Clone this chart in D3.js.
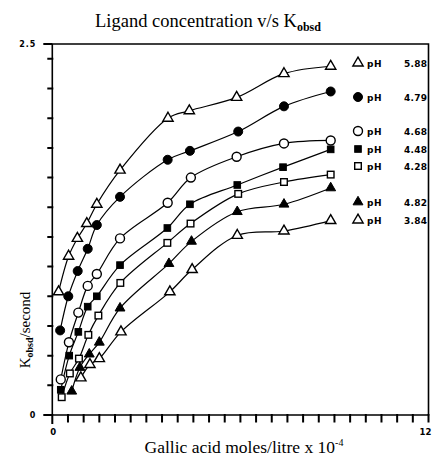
<!DOCTYPE html>
<html>
<head>
<meta charset="utf-8">
<script src="https://cdn.jsdelivr.net/npm/d3@7"></script>
<style>
  body { margin: 0; background: #fff; }
  svg { display: block; }
</style>
</head>
<body>
<div id="chart"></div>
<script>
// Ligand concentration v/s Kobsd
var series_ph = ["5.88", "4.79", "4.68", "4.48", "4.28", "4.82", "3.84"];
var series_marks = ["triangleOpen", "circleFilled", "circleOpen", "squareFilled", "squareOpen", "triangleFilled", "triangleOpen"];

// gallic acid (moles/litre x 10^-4) for each series
var conc_588 = [0.2, 0.52, 0.8, 1.1, 1.42, 2.16, 3.69, 4.37, 5.88, 7.39, 8.88];
var conc_479 = [0.25, 0.51, 0.81, 1.13, 1.42, 2.16, 3.68, 4.39, 5.93, 7.39, 8.88];
var conc_468 = [0.27, 0.53, 0.83, 1.13, 1.42, 2.16, 3.68, 4.42, 5.88, 7.39, 8.88];
var conc_448 = [0.27, 0.54, 0.83, 1.13, 1.42, 2.16, 3.67, 4.39, 5.9, 7.36, 8.88];
var conc_428 = [0.3, 0.56, 0.85, 1.15, 1.47, 2.17, 3.67, 4.41, 5.93, 7.39, 8.88];
var conc_482 = [0.62, 0.88, 1.18, 1.5, 2.16, 3.72, 4.44, 5.9, 7.39, 8.88];
var conc_384 = [0.91, 1.2, 1.5, 2.19, 3.75, 4.46, 5.9, 7.39, 8.88];

// Kobsd / second
var k_588 = [0.83, 1.07, 1.19, 1.29, 1.42, 1.65, 2.0, 2.05, 2.14, 2.3, 2.35];
var k_479 = [0.57, 0.8, 0.97, 1.12, 1.28, 1.47, 1.72, 1.78, 1.91, 2.08, 2.18];
var k_468 = [0.24, 0.49, 0.69, 0.87, 0.95, 1.19, 1.43, 1.6, 1.74, 1.83, 1.85];
var k_448 = [0.17, 0.4, 0.56, 0.73, 0.8, 1.01, 1.26, 1.42, 1.55, 1.67, 1.79];
var k_428 = [0.12, 0.28, 0.38, 0.54, 0.67, 0.89, 1.16, 1.29, 1.49, 1.57, 1.62];
var k_482 = [0.16, 0.32, 0.41, 0.49, 0.72, 1.02, 1.17, 1.37, 1.42, 1.53];
var k_384 = [0.25, 0.34, 0.38, 0.56, 0.83, 0.98, 1.21, 1.24, 1.31];

var x_ticks = d3.range(0, 12.01, 0.5);
var y_ticks = d3.range(0.2, 2.41, 0.2);
var x_tick_labels = ["0", "12"];
var y_tick_labels = ["0", "2.5"];

var all_conc = [conc_588, conc_479, conc_468, conc_448, conc_428, conc_482, conc_384];
var all_k = [k_588, k_479, k_468, k_448, k_428, k_482, k_384];
var legend_y = [63, 97, 131, 149, 166, 202, 220];

var width = 432, height = 457;
var plot = { left: 52.3, right: 428.5, top: 44, bottom: 415 };

var svg = d3.select("#chart").append("svg")
    .attr("width", width)
    .attr("height", height);

var x = d3.scaleLinear().domain([0, 12]).range([plot.left, plot.right]);
var y = d3.scaleLinear().domain([0, 2.5]).range([plot.bottom, plot.top]);

// box
svg.append("path")
    .attr("d", "M" + plot.left + "," + plot.top + "H" + plot.right + "V" + plot.bottom + "H" + plot.left + "Z")
    .attr("fill", "none")
    .attr("stroke", "#000")
    .attr("stroke-width", 1.6);

// tick marks, one path per axis
var x_tick_path = x_ticks.map(function (d) {
    return "M" + x(d) + "," + (plot.bottom - 1) + "v" + (d === 0 ? 10 : 8.5);
}).join("");
svg.append("path")
    .attr("d", x_tick_path)
    .attr("fill", "none")
    .attr("stroke", "#000")
    .attr("stroke-width", 2);

var y_tick_path = y_ticks.map(function (d) {
    return "M" + (plot.left - 5) + "," + y(d) + "H" + (plot.left + 1);
}).join("") + [0, 2.5].map(function (d) {
    return "M" + (plot.left - 9) + "," + y(d) + "H" + plot.left;
}).join("");
svg.append("path")
    .attr("d", y_tick_path)
    .attr("fill", "none")
    .attr("stroke", "#000")
    .attr("stroke-width", 2);

var tick_font = "'DejaVu Sans', sans-serif";

svg.append("g").selectAll("text")
    .data(y_tick_labels)
    .enter().append("text")
    .attr("x", plot.left - 16)
    .attr("y", function (d) { return y(+d) + 3; })
    .attr("text-anchor", "end")
    .attr("font-family", tick_font)
    .attr("font-weight", "bold")
    .attr("font-size", "8px")
    .attr("letter-spacing", "1px")
    .text(function (d) { return d; });

svg.append("g").selectAll("text")
    .data(x_tick_labels)
    .enter().append("text")
    .attr("x", function (d) { return +d === 0 ? x(+d) + 1 : x(+d) - 3; })
    .attr("y", plot.bottom + 20)
    .attr("text-anchor", "middle")
    .attr("font-family", tick_font)
    .attr("font-weight", "bold")
    .attr("font-size", "8.5px")
    .text(function (d) { return d; });

// title
var serif = "'Liberation Serif', 'DejaVu Serif', serif";
var title = svg.append("text")
    .attr("x", 208)
    .attr("y", 27)
    .attr("text-anchor", "middle")
    .attr("font-family", serif)
    .attr("font-size", "18.5px");
title.append("tspan").text("Ligand concentration v/s K");
title.append("tspan").attr("font-size", "12px").attr("dy", 4).attr("font-weight", "bold").text("obsd");

// x label
var xlab = svg.append("text")
    .attr("x", 244)
    .attr("y", 453)
    .attr("text-anchor", "middle")
    .attr("font-family", serif)
    .attr("font-size", "17.5px");
xlab.append("tspan").text("Gallic acid moles/litre x 10");
xlab.append("tspan").attr("font-size", "10px").attr("dy", -7).text("-4");

// y label
var ylab = svg.append("text")
    .attr("transform", "translate(30,330) rotate(-90)")
    .attr("text-anchor", "middle")
    .attr("font-family", serif)
    .attr("font-size", "15px");
ylab.append("tspan").text("K");
ylab.append("tspan").attr("font-size", "10px").attr("dy", 3).attr("font-weight", "bold").text("obsd");
ylab.append("tspan").attr("dy", -3).text("/second");

function draw_mark(g, type) {
    var filled = type.indexOf("Filled") >= 0;
    var m;
    if (type.indexOf("circle") === 0) {
        m = g.append("circle").attr("r", 4.5);
    } else if (type.indexOf("square") === 0) {
        m = g.append("rect").attr("x", -3.3).attr("y", -3.3).attr("width", 6.6).attr("height", 6.6);
    } else {
        m = g.append("path").attr("d", d3.symbol().type(d3.symbolTriangle).size(filled ? 42 : 46)());
    }
    m.attr("fill", filled ? "#000" : "#fff")
        .attr("stroke", "#000")
        .attr("stroke-width", filled ? 1 : 1.4);
}

var line = d3.line()
    .x(function (d) { return x(d[0]); })
    .y(function (d) { return y(d[1]); })
    .curve(d3.curveCatmullRom.alpha(0.5));

for (var i = 0; i < all_conc.length; i++) {
    var pts = all_conc[i].map(function (c, j) { return [c, all_k[i][j]]; });
    svg.append("path")
        .datum(pts)
        .attr("d", line)
        .attr("fill", "none")
        .attr("stroke", "#000")
        .attr("stroke-width", 1.2);
}
for (var i = 0; i < all_conc.length; i++) {
    var pts = all_conc[i].map(function (c, j) { return [c, all_k[i][j]]; });
    var type = series_marks[i];
    svg.append("g").selectAll("g")
        .data(pts)
        .enter().append("g")
        .attr("transform", function (d) { return "translate(" + x(d[0]) + "," + y(d[1]) + ")"; })
        .each(function () { draw_mark(d3.select(this), type); });
}

// legend
var legend = svg.append("g").selectAll("g")
    .data(series_ph)
    .enter().append("g")
    .attr("transform", function (d, i) { return "translate(358," + legend_y[i] + ")"; });
legend.each(function (d, i) { draw_mark(d3.select(this), series_marks[i]); });
legend.append("text")
    .attr("x", 9)
    .attr("y", 3.5)
    .attr("font-family", tick_font)
    .attr("font-weight", "bold")
    .attr("font-size", "9px")
    .attr("letter-spacing", "0.5px")
    .text("pH");
legend.append("text")
    .attr("x", 46)
    .attr("y", 3.5)
    .attr("font-family", tick_font)
    .attr("font-weight", "bold")
    .attr("font-size", "9px")
    .attr("letter-spacing", "0.3px")
    .text(function (d) { return d; });
</script>
</body>
</html>
